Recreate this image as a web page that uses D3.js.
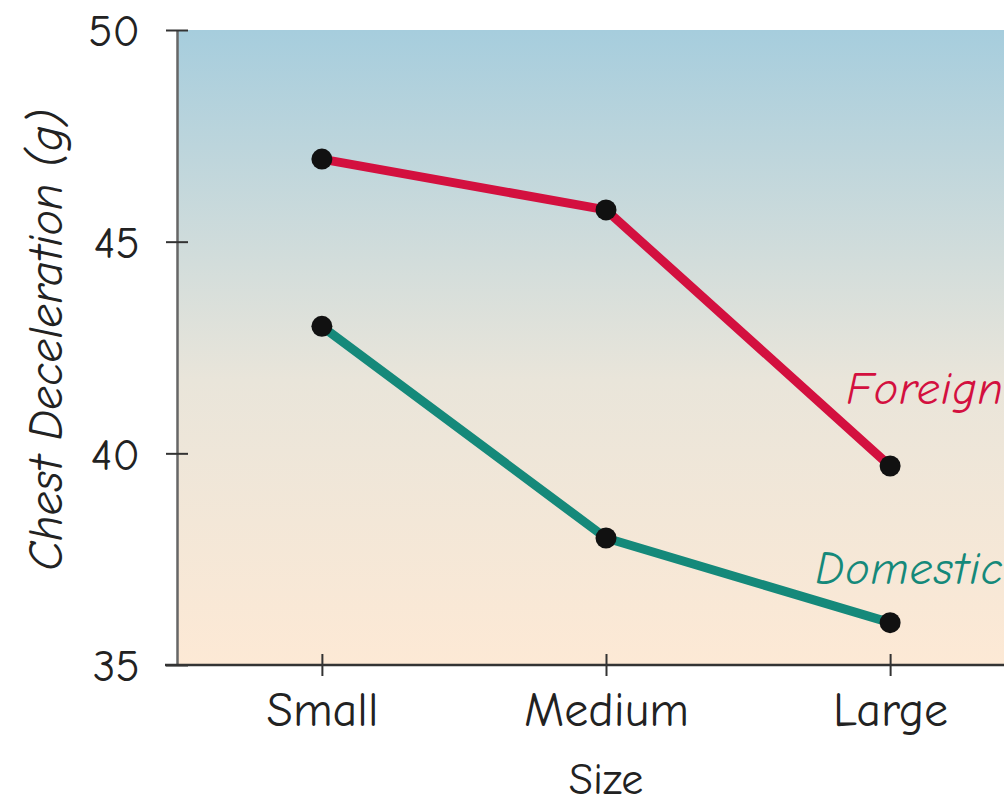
<!DOCTYPE html>
<html>
<head>
<meta charset="utf-8">
<script src="https://cdn.jsdelivr.net/npm/d3@7"></script>
<style>
  body { margin: 0; background: #fff; }
  svg text { font-family: "Comic Sans MS", "Comic Neue", "Open Sans", sans-serif; }
</style>
</head>
<body>
<svg id="chart" width="1004" height="808"></svg>
<script>
const sizes = ["Small", "Medium", "Large"];
const foreign = [46.95, 45.75, 39.7];
const domestic = [43, 38, 36];
const y_ticks = [35, 40, 45, 50];

const margin = {top: 30, left: 177, bottom: 143},
      width = 1035 - margin.left,
      height = 808 - margin.top - margin.bottom;

const svg = d3.select("#chart");

// background gradient
const defs = svg.append("defs");
const grad = defs.append("linearGradient")
    .attr("id", "bg")
    .attr("x1", 0).attr("y1", 0).attr("x2", 0).attr("y2", 1);
grad.append("stop").attr("offset", "0%").attr("stop-color", "#a6cddd");
grad.append("stop").attr("offset", "55%").attr("stop-color", "#e9e5da");
grad.append("stop").attr("offset", "100%").attr("stop-color", "#fde9d5");

const g = svg.append("g")
    .attr("transform", "translate(" + margin.left + "," + margin.top + ")");

var xScale = d3.scalePoint().domain(sizes).range([0, width]).padding(0.51);
var yScale = d3.scaleLinear().domain([35, 50]).range([height, 0]);

g.append("rect")
    .attr("x", 0).attr("y", 0)
    .attr("width", width).attr("height", height)
    .style("fill", "url(#bg)");

//y axis
const yAxis = g.append("g")
    .attr("class", "y-axis")
    .call(d3.axisLeft(yScale).tickValues(y_ticks).tickSize(11).tickSizeOuter(0).tickPadding(26));
yAxis.select(".domain").attr("stroke", "#666").attr("stroke-width", 2.5);
yAxis.selectAll(".tick line").attr("stroke", "#333").attr("stroke-width", 2).attr("x2", -11).attr("x1", 11);
yAxis.selectAll(".tick text")
    .attr("fill", "#222")
    .style("font-size", "45px")
    .attr("dy", "0.35em");

//x axis
const xAxis = g.append("g")
    .attr("class", "x-axis")
    .attr("transform", "translate(0," + height + ")")
    .call(d3.axisBottom(xScale).tickSize(11).tickSizeOuter(0).tickPadding(16));
xAxis.select(".domain").attr("stroke", "#333").attr("stroke-width", 2.5)
    .attr("d", "M-12,0H" + width);
xAxis.selectAll(".tick line").attr("stroke", "#333").attr("stroke-width", 2).attr("y1", -11);
xAxis.selectAll(".tick text")
    .attr("fill", "#222")
    .style("font-size", "48px");

//axis titles
svg.append("text")
    .attr("transform", "translate(62,340) rotate(-90)")
    .attr("text-anchor", "middle")
    .style("font-size", "48px")
    .style("font-style", "italic")
    .attr("fill", "#222")
    .text("Chest Deceleration (g)");

svg.append("text")
    .attr("x", margin.left + xScale("Medium"))
    .attr("y", 794)
    .attr("text-anchor", "middle")
    .style("font-size", "44px")
    .attr("fill", "#222")
    .text("Size");

//lines
const series = [
    {name: "Foreign", values: foreign, color: "#d3103f", lx: 1004, ly: 404},
    {name: "Domestic", values: domestic, color: "#15897a", lx: 1004, ly: 584}
];

const line = d3.line()
    .x(function (d, i) { return xScale(sizes[i]); })
    .y(function (d) { return yScale(d); });

series.forEach(function (s) {
    g.append("path")
        .datum(s.values)
        .attr("d", line)
        .attr("fill", "none")
        .attr("stroke", s.color)
        .attr("stroke-width", 9);

    g.selectAll(".dot-" + s.name)
        .data(s.values)
        .enter().append("circle")
        .attr("cx", function (d, i) { return xScale(sizes[i]); })
        .attr("cy", function (d) { return yScale(d); })
        .attr("r", 10.5)
        .attr("fill", "#111");

    svg.append("text")
        .attr("x", s.lx)
        .attr("y", s.ly)
        .attr("text-anchor", "end")
        .style("font-size", "46px")
        .style("font-style", "italic")
        .style("letter-spacing", "1px")
        .attr("fill", s.color)
        .text(s.name);
});
</script>
</body>
</html>
